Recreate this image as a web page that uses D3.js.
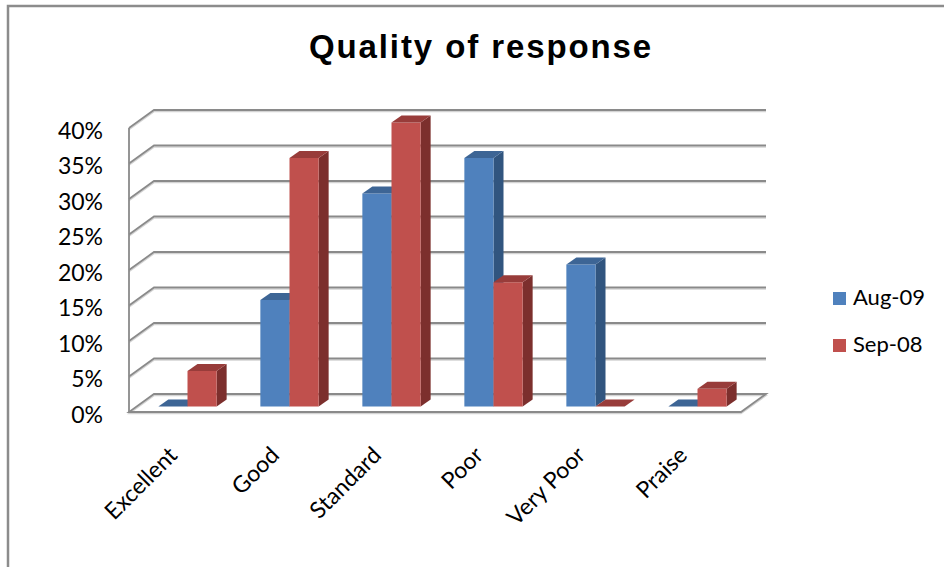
<!DOCTYPE html>
<html>
<head>
<meta charset="utf-8">
<script src="https://cdn.jsdelivr.net/npm/d3@7"></script>
<style>
  html, body { margin: 0; padding: 0; background: #fff; }
  svg { display: block; }
</style>
</head>
<body>
<svg id="chart" width="944" height="567"></svg>
<script>
// Survey results: quality of response, two survey periods
const categories = ["Excellent", "Good", "Standard", "Poor", "Very Poor", "Praise"];
const seriesNames = ["Aug-09", "Sep-08"];
const aug09 = [0, 15, 30, 35, 20, 0];
const sep08 = [5, 35, 40, 17.5, 0, 2.5];
const yTicks = [0, 5, 10, 15, 20, 25, 30, 35, 40];

const seriesValues = [aug09, sep08];
const colors = {
  "Aug-09": { front: "#4f81bd", top: "#3d6595", side: "#31557f" },
  "Sep-08": { front: "#c0504d", top: "#983c3a", side: "#7c2f2d" }
};

const svg = d3.select("#chart");
const W = 944, H = 567;

// chart frame
svg.append("path")
  .attr("d", `M8,${H} L8,6 L${W},6`)
  .attr("fill", "none")
  .attr("stroke", "#8c8c8c")
  .attr("stroke-width", 2.5);

// title
svg.append("text")
  .attr("x", 481)
  .attr("y", 58)
  .attr("text-anchor", "middle")
  .attr("font-family", "Liberation Sans, Arial, sans-serif")
  .attr("font-weight", "bold")
  .attr("font-size", 33)
  .attr("letter-spacing", 1.9)
  .attr("fill", "#000")
  .text("Quality of response");

// front plane scales plus an oblique depth offset for the 3D look
const x = d3.scaleBand().domain(categories).range([129, 741]).paddingInner(0).paddingOuter(0);
const xs = d3.scaleBand().domain(seriesNames).range([0, x.bandwidth()]).paddingInner(0).paddingOuter(0.75);
const y = d3.scaleLinear().domain([0, 40]).range([412, 128]);
const DEPTH_X = 25, DEPTH_Y = -18;
const barFront = 0.3, barBack = 0.7;

function P(px, v, f) {
  return [px + DEPTH_X * f, y(v) + DEPTH_Y * f];
}
const poly = pts => "M" + pts.map(p => p.join(",")).join("L") + "Z";
const line = pts => "M" + pts.map(p => p.join(",")).join("L");

const xL = x.range()[0], xR = x.range()[1];
const grid = svg.append("g").attr("fill", "none");

// light shadow under each grid line
const gridPath = v => line([P(xL, v, 0), P(xL, v, 1), P(xR, v, 1)]);
grid.selectAll("path.shadow")
  .data(yTicks.filter(v => v > 0))
  .join("path")
  .attr("class", "shadow")
  .attr("d", gridPath)
  .attr("transform", "translate(0,1.6)")
  .attr("stroke", "#d4d4d4")
  .attr("stroke-width", 1.4);
grid.selectAll("path.major")
  .data(yTicks.filter(v => v > 0))
  .join("path")
  .attr("class", "major")
  .attr("d", gridPath)
  .attr("stroke", "#8a8a8a")
  .attr("stroke-width", 1.8);

// floor and left wall edge
grid.append("path")
  .attr("d", poly([P(xL, 0, 0), P(xR, 0, 0), P(xR, 0, 1), P(xL, 0, 1)]))
  .attr("transform", "translate(0,1.6)")
  .attr("stroke", "#d4d4d4").attr("stroke-width", 1.4);
grid.append("path")
  .attr("d", poly([P(xL, 0, 0), P(xR, 0, 0), P(xR, 0, 1), P(xL, 0, 1)]))
  .attr("stroke", "#8a8a8a").attr("stroke-width", 1.8);
grid.append("path")
  .attr("d", line([P(xL, 0, 0), P(xL, 40, 0)]))
  .attr("stroke", "#8a8a8a").attr("stroke-width", 1.8);

// y axis labels
svg.append("g")
  .selectAll("text")
  .data(yTicks)
  .join("text")
  .attr("x", 103)
  .attr("y", v => y(v) + 2.5)
  .attr("dy", "0.36em")
  .attr("text-anchor", "end")
  .attr("font-family", "Lato, sans-serif")
  .attr("font-size", 23)
  .attr("fill", "#000")
  .text(v => v + "%");

// bars
const bars = [];
categories.forEach((c, i) => {
  seriesNames.forEach((s, j) => {
    bars.push({ cat: c, series: s, value: seriesValues[j][i] });
  });
});

const barG = svg.append("g")
  .selectAll("g")
  .data(bars)
  .join("g");

barG.each(function (d) {
  const g = d3.select(this);
  const x0 = x(d.cat) + xs(d.series);
  const x1 = x0 + xs.bandwidth();
  const v = d.value;
  const c = colors[d.series];
  if (v > 0) {
    g.append("path")
      .attr("d", poly([P(x1, 0, barFront), P(x1, 0, barBack), P(x1, v, barBack), P(x1, v, barFront)]))
      .attr("fill", c.side);
    g.append("path")
      .attr("d", poly([P(x0, 0, barFront), P(x1, 0, barFront), P(x1, v, barFront), P(x0, v, barFront)]))
      .attr("fill", c.front);
  }
  g.append("path")
    .attr("d", poly([P(x0, v, barFront), P(x1, v, barFront), P(x1, v, barBack), P(x0, v, barBack)]))
    .attr("fill", c.top);
});

// category labels, rotated
svg.append("g")
  .selectAll("text")
  .data(categories)
  .join("text")
  .attr("transform", c => `translate(${x(c) + x.bandwidth() / 2 - 7},451) rotate(-45)`)
  .attr("text-anchor", "end")
  .attr("dy", "0.35em")
  .attr("font-family", "Lato, sans-serif")
  .attr("font-size", 23)
  .attr("fill", "#000")
  .text(c => c);

// legend
const legend = svg.append("g")
  .selectAll("g")
  .data(seriesNames)
  .join("g")
  .attr("transform", (s, i) => `translate(833,${292 + i * 47})`);
legend.append("rect")
  .attr("width", 13).attr("height", 13)
  .attr("fill", s => colors[s].front);
legend.append("text")
  .attr("x", 20)
  .attr("y", 13)
  .attr("font-family", "Lato, sans-serif")
  .attr("font-size", 22)
  .attr("fill", "#000")
  .text(s => s);
</script>
</body>
</html>
